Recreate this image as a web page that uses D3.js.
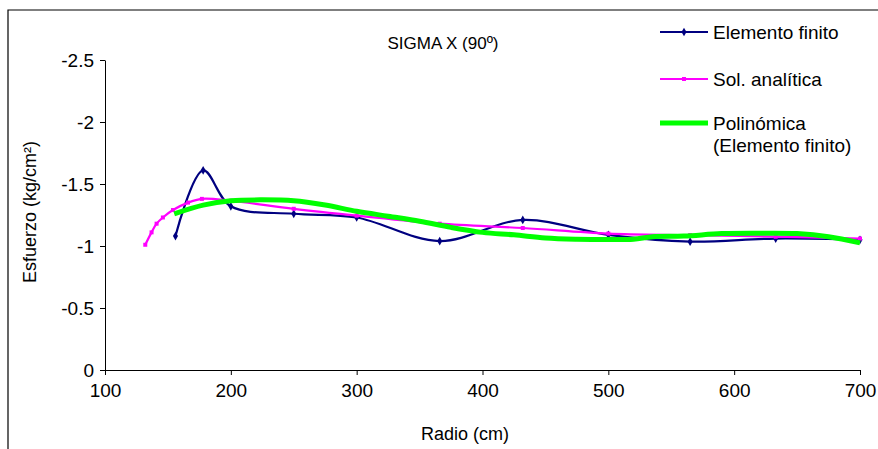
<!DOCTYPE html>
<html><head><meta charset="utf-8">
<script src="https://cdn.jsdelivr.net/npm/d3@7"></script>
<style>body{margin:0;background:#fff}svg{display:block}text{font-family:"Liberation Sans",Arial,sans-serif;fill:#000}</style>
</head><body>
<svg id="c" width="878" height="449"></svg>
<script>
const title = "SIGMA X (90º)";
const xTicks = [100, 200, 300, 400, 500, 600, 700];
const yTicks = [0, -0.5, -1, -1.5, -2, -2.5];
const seriesNames = ["Elemento finito", "Sol. analítica", "Polinómica", "(Elemento finito)"];
const feR = [156, 178, 200, 250, 300, 366, 432, 500, 565, 633, 700];
const feV = [-1.08, -1.61, -1.32, -1.26, -1.23, -1.04, -1.21, -1.09, -1.035, -1.06, -1.05];
const anR = [132, 137, 141, 146, 154, 166, 177, 200, 250, 300, 366, 432, 500, 565, 633, 700];
const anV = [-1.01, -1.11, -1.18, -1.23, -1.29, -1.35, -1.38, -1.365, -1.30, -1.245, -1.18, -1.145, -1.10, -1.088, -1.075, -1.06];
const poR = [155, 178, 200, 225, 250, 275, 300, 325, 350, 375, 400, 425, 450, 475, 500, 520, 535, 560, 590, 620, 650, 675, 700];
const poV = [-1.26, -1.33, -1.365, -1.372, -1.365, -1.33, -1.28, -1.24, -1.20, -1.15, -1.11, -1.09, -1.065, -1.055, -1.052, -1.055, -1.075, -1.08, -1.10, -1.103, -1.10, -1.075, -1.025];

const svg = d3.select("#c");
svg.append("path").attr("d","M8,449V10H878").attr("fill","none").attr("stroke","#000").attr("stroke-width",1.2);

const x = d3.scaleLinear().domain([100, 700]).range([105, 860]);
const y = d3.scaleLinear().domain([0, -2.5]).range([370, 60]);

const fmt = d => String(d);
const gx = svg.append("g").attr("transform","translate(0,370)")
  .call(d3.axisBottom(x).tickValues(xTicks).tickFormat(fmt).tickSize(5).tickSizeOuter(0));
const gy = svg.append("g").attr("transform","translate(105,0)")
  .call(d3.axisLeft(y).tickValues(yTicks).tickFormat(fmt).tickSize(5).tickSizeOuter(0));
[gx, gy].forEach(g => {
  g.selectAll("path,line").attr("stroke","#000");
  g.selectAll("text").style("font-size","19px").attr("fill","#000");
});
gx.selectAll("text").attr("y",14).attr("dy","0.71em");
gy.selectAll("text").attr("x",-11);

svg.append("text").attr("x",465).attr("y",440).attr("text-anchor","middle").style("font-size","18px").text("Radio (cm)");
svg.append("text").attr("transform","translate(36,212) rotate(-90)").attr("text-anchor","middle").style("font-size","18px").text("Esfuerzo (kg/cm²)");
svg.append("text").attr("x",443).attr("y",49).attr("text-anchor","middle").style("font-size","17px").text(title);

const line = (R, V, curve) => d3.line().x((d,i)=>x(R[i])).y((d,i)=>y(V[i])).curve(curve)(V);

svg.append("path").attr("d", line(feR, feV, d3.curveCatmullRom.alpha(0.5))).attr("fill","none").attr("stroke","#000080").attr("stroke-width",2.2);
svg.append("g").selectAll("path").data(feV).join("path")
  .attr("d", d3.symbol(d3.symbolDiamond, 22)).attr("transform",(d,i)=>`translate(${x(feR[i])},${y(d)})`).attr("fill","#000080");

svg.append("path").attr("d", line(anR, anV, d3.curveCatmullRom.alpha(0.5))).attr("fill","none").attr("stroke","#ff00ff").attr("stroke-width",2.2);
svg.append("g").selectAll("rect").data(anV).join("rect")
  .attr("x",(d,i)=>x(anR[i])-2).attr("y",d=>y(d)-2).attr("width",4).attr("height",4).attr("fill","#ff00ff");

svg.append("path").attr("d", line(poR, poV, d3.curveCatmullRom.alpha(0.5))).attr("fill","none").attr("stroke","#00ff00").attr("stroke-width",5);

const lg = svg.append("g");
lg.append("line").attr("x1",660).attr("x2",708).attr("y1",32).attr("y2",32).attr("stroke","#000080").attr("stroke-width",2.2);
lg.append("path").attr("d", d3.symbol(d3.symbolDiamond, 22)).attr("transform","translate(684,32)").attr("fill","#000080");
lg.append("line").attr("x1",660).attr("x2",708).attr("y1",79).attr("y2",79).attr("stroke","#ff00ff").attr("stroke-width",2.2);
lg.append("rect").attr("x",682).attr("y",77).attr("width",4).attr("height",4).attr("fill","#ff00ff");
lg.append("line").attr("x1",660).attr("x2",708).attr("y1",123).attr("y2",123).attr("stroke","#00ff00").attr("stroke-width",5);
const ly = [39, 86, 130, 152];
seriesNames.forEach((s,i)=>lg.append("text").attr("x",713).attr("y",ly[i]).style("font-size","19px").text(s));
</script>
</body></html>
